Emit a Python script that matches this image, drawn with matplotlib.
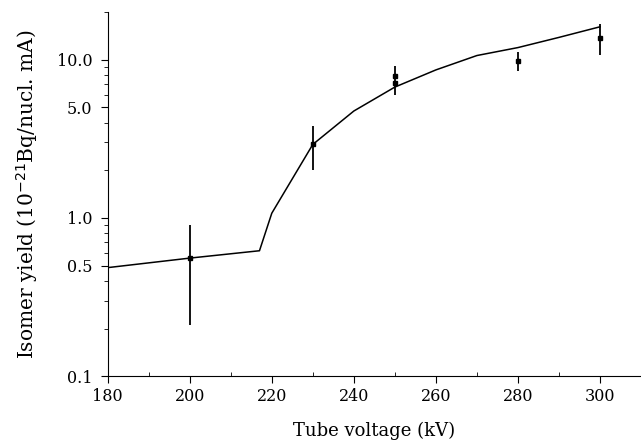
import numpy as np
import matplotlib
matplotlib.use('Agg')
import matplotlib.pyplot as plt
from matplotlib.ticker import FixedLocator, NullFormatter

# model curve
curve_kv = [180, 200, 217, 220, 230, 240, 250, 260, 270, 280, 290, 300]
curve_yield = [0.485, 0.557, 0.62, 1.07, 2.91, 4.73, 6.7, 8.6, 10.6, 11.9, 13.8, 16.1]

# measured points
meas_kv = [200, 230, 250, 250, 280, 300]
meas_yield = [0.557, 2.91, 7.85, 7.13, 9.86, 13.7]

# error bars (low, high)
err_kv = [200, 230, 250, 280, 300]
err_low = [0.212, 2.02, 5.94, 8.44, 10.7]
err_high = [0.904, 3.79, 9.08, 11.1, 16.8]

plt.rcParams['font.family'] = 'DejaVu Serif'

fig = plt.figure(figsize=(6.41, 4.40), dpi=100)
ax = fig.add_axes([0.168, 0.145, 0.832, 0.828])

ax.plot(curve_kv, curve_yield, color='black', linewidth=1.1)
ax.vlines(err_kv, err_low, err_high, color='black', linewidth=1.3)
ax.plot(meas_kv, meas_yield, 's', color='black', markersize=3.5)

ax.set_yscale('log')
ax.set_xlim(180, 310)
ax.set_ylim(0.1, 20)

ax.yaxis.set_major_locator(FixedLocator([0.1, 0.5, 1.0, 5.0, 10.0]))
ax.set_yticklabels(['0.1', '0.5', '1.0', '5.0', '10.0'])
ax.yaxis.set_minor_locator(FixedLocator([0.2, 0.3, 0.4, 0.6, 0.7, 0.8, 0.9,
                                         2, 3, 4, 6, 7, 8, 9, 20]))
ax.yaxis.set_minor_formatter(NullFormatter())

ax.set_xticks([180, 200, 220, 240, 260, 280, 300])
ax.set_xticks([190, 210, 230, 250, 270, 290, 310], minor=True)

ax.tick_params(axis='both', which='major', labelsize=11.5, length=5, width=0.8, direction='out')
ax.tick_params(axis='y', which='major', pad=6)
ax.tick_params(axis='y', which='minor', length=3, width=0.6, direction='out')
ax.tick_params(axis='x', which='minor', length=3, width=0.6, direction='in')

ax.spines['top'].set_visible(False)
ax.spines['right'].set_visible(False)

ax.set_xlabel('Tube voltage (kV)', fontsize=13, labelpad=12)
ax.set_ylabel('Isomer yield (10$^{-21}$Bq/nucl. mA)', fontsize=14.5, labelpad=12)

fig.savefig('out.png', dpi=100)
